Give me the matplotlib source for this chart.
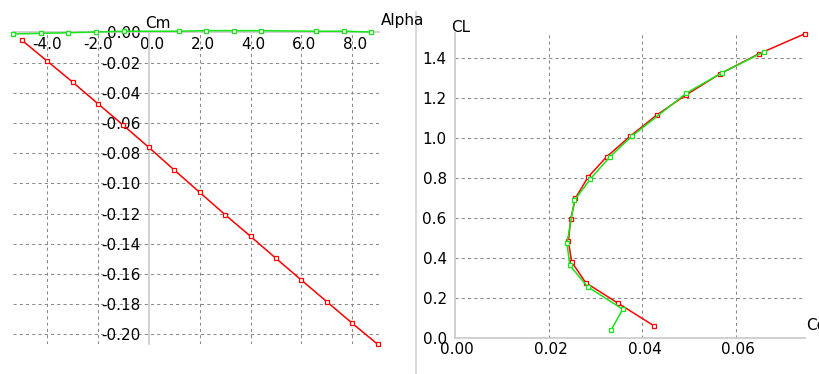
import matplotlib
matplotlib.use('Agg')
import matplotlib.pyplot as plt
from matplotlib.transforms import ScaledTranslation
import numpy as np

plt.rcParams['font.family'] = ['DejaVu Sans']
plt.rcParams['font.size'] = 11

# polar 1 (red): alpha -5..9
alpha_red = [-5, -4, -3, -2, -1, 0, 1, 2, 3, 4, 5, 6, 7, 8, 9]
cm_red = [-0.0051, -0.0190, -0.0329, -0.0473, -0.0616, -0.0762, -0.0912, -0.1060,
          -0.1208, -0.1351, -0.1497, -0.1641, -0.1784, -0.1927, -0.2066]
cl_red = [0.063, 0.175, 0.277, 0.381, 0.485, 0.594, 0.699, 0.804,
          0.906, 1.008, 1.114, 1.212, 1.318, 1.418, 1.519]
cd_red = [0.0424, 0.0348, 0.0279, 0.0249, 0.0242, 0.0247, 0.0257, 0.0284,
          0.0324, 0.0374, 0.0431, 0.0492, 0.0565, 0.0648, 0.0747]

# polar 2 (green)
alpha_green = [-5.34, -4.22, -3.16, -2.08, -0.99, 1.17, 2.25, 3.34, 4.42, 6.57, 7.66, 8.73]
cm_green = [-0.0011, -0.0007, -0.0003, 0.0002, 0.0007, 0.0007,
            0.0011, 0.0011, 0.0011, 0.0007, 0.0007, 0.0002]
cl_green = [0.040, 0.145, 0.257, 0.364, 0.474, 0.688, 0.795, 0.906, 1.009, 1.223, 1.323, 1.428]
cd_green = [0.0333, 0.0358, 0.0283, 0.0245, 0.0239, 0.0255, 0.0289, 0.0331,
            0.0378, 0.0494, 0.0569, 0.0659]

alpha_ticks = [-4, -2, 0, 2, 4, 6, 8]
cm_ticks = np.round(np.arange(0, -0.2001, -0.02), 2)
cd_ticks = [0.0, 0.02, 0.04, 0.06]
cl_ticks = np.round(np.arange(0, 1.41, 0.2), 1)

RED = '#ff0000'
GREEN = '#16e616'
AXIS = '#c8c8c8'
GRID = '#8a8a8a'

W, H = 820, 374
fig = plt.figure(figsize=(W / 100, H / 100), dpi=100)
fig.patch.set_facecolor('white')


def px(x, y):
    return x / W, 1 - y / H


def style_axes(ax):
    for s in ['top', 'right']:
        ax.spines[s].set_visible(False)
    for s in ['left', 'bottom']:
        ax.spines[s].set_color(AXIS)
        ax.spines[s].set_linewidth(1.2)
    ax.tick_params(length=0, colors='black', labelsize=11)
    ax.patch.set_alpha(0)


def shift_xlabels(ax, dx):
    off = ScaledTranslation(dx / 100, 0, fig.dpi_scale_trans)
    for lab in ax.get_xticklabels():
        lab.set_horizontalalignment('right')
        lab.set_transform(lab.get_transform() + off)


def draw_grid(ax, xs, ys):
    for v in xs:
        ax.axvline(v, color=GRID, lw=0.75, ls=(0, (3, 3)), zorder=1)
    for v in ys:
        ax.axhline(v, color=GRID, lw=0.75, ls=(0, (3, 3)), zorder=1)


def draw_polar(ax, x, y, color):
    ax.plot(x, y, color=color, lw=1.1, marker='s', ms=3.2, mfc='white',
            mec=color, mew=0.9, clip_on=False, zorder=3)


# ---- Cm vs Alpha ----
ax1 = fig.add_axes([13 / W, (H - 344.3) / H, 366 / W, 312 / H])
style_axes(ax1)
ax1.set_xlim(-5.34, 9.05)
ax1.set_ylim(-0.2066, 0.0)
ax1.spines['left'].set_position(('data', 0))
ax1.spines['bottom'].set_position(('data', 0))
ax1.set_xticks(alpha_ticks)
ax1.set_xticklabels([f'{v:.1f}' for v in alpha_ticks])
ax1.set_yticks(cm_ticks)
ax1.set_yticklabels([f'{v:.2f}' for v in cm_ticks])
ax1.tick_params(axis='x', pad=3.5)
ax1.tick_params(axis='y', pad=6)
shift_xlabels(ax1, 15)
draw_grid(ax1, [v for v in alpha_ticks if v != 0], [v for v in cm_ticks if v != 0])
draw_polar(ax1, alpha_red, cm_red, RED)
draw_polar(ax1, alpha_green, cm_green, GREEN)
for lab in ax1.get_yticklabels():
    lab.set_zorder(5)

fig.text(*px(145, 23), 'Cm', ha='left', va='center')
fig.text(*px(381, 21), 'Alpha', ha='left', va='center')

# ---- CL vs Cd ----
ax2 = fig.add_axes([455 / W, (H - 338.3) / H, 350 / W, 304.8 / H])
style_axes(ax2)
ax2.set_xlim(0, 0.0747)
ax2.set_ylim(0, 1.52)
ax2.set_xticks(cd_ticks)
ax2.set_xticklabels([f'{v:.2f}' for v in cd_ticks])
ax2.set_yticks(cl_ticks)
ax2.set_yticklabels([f'{v:.1f}' for v in cl_ticks])
ax2.tick_params(axis='x', pad=3)
ax2.tick_params(axis='y', pad=6)
shift_xlabels(ax2, 19)
draw_grid(ax2, cd_ticks[1:], cl_ticks[1:])
draw_polar(ax2, cd_red, cl_red, RED)
draw_polar(ax2, cd_green, cl_green, GREEN)

fig.text(*px(451, 27), 'CL', ha='left', va='center')
fig.text(*px(806, 325), 'Cd', ha='left', va='center')

# separator between the two graphs
fig.add_artist(plt.Line2D([415.7 / W, 415.7 / W], [0, 1 - 12 / H],
                          transform=fig.transFigure, color='#d4d4d4', lw=1.2))

fig.savefig('out.png', dpi=100, facecolor='white')
